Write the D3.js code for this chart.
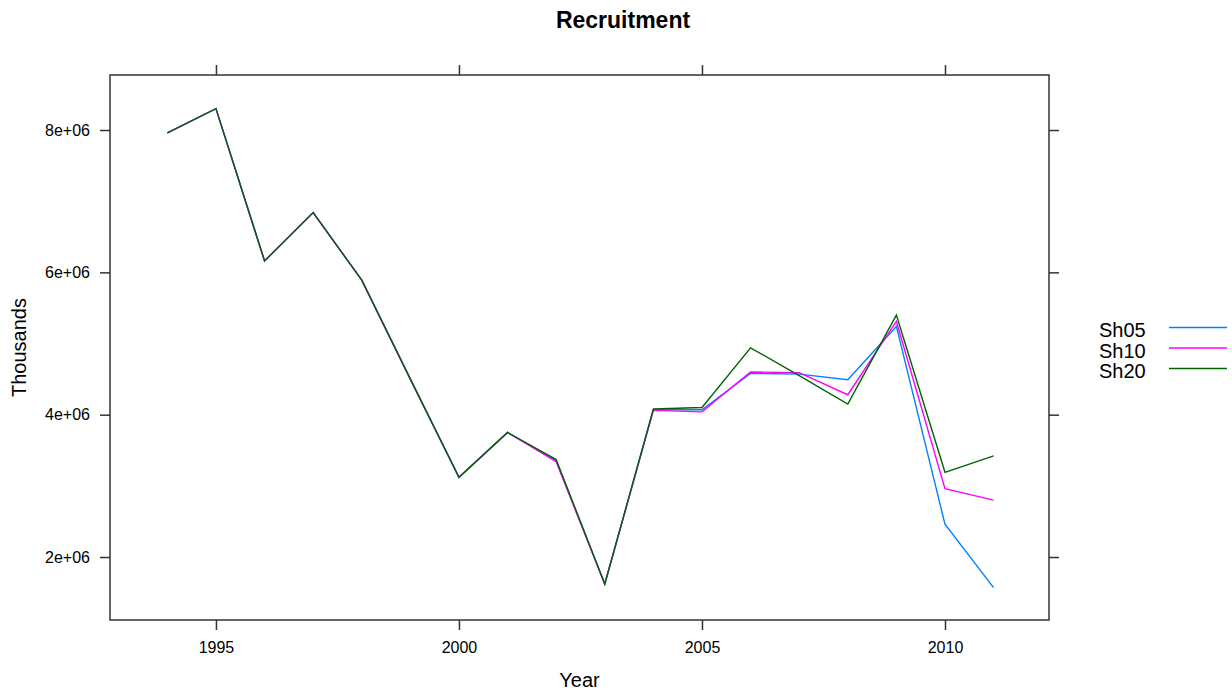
<!DOCTYPE html>
<html>
<head>
<meta charset="utf-8">
<script src="https://cdn.jsdelivr.net/npm/d3@7"></script>
<style>
  body { margin: 0; background: #fff; }
  svg { display: block; font-family: Arial, "Liberation Sans", sans-serif; }
</style>
</head>
<body>
<svg id="chart" width="1232" height="693"></svg>
<script>
const years = [1994, 1995, 1996, 1997, 1998, 1999, 2000, 2001, 2002, 2003,
               2004, 2005, 2006, 2007, 2008, 2009, 2010, 2011];

// recruitment values (millions)
const sh05 = [7.96, 8.30, 6.16, 6.84, 5.89, 4.50, 3.12, 3.75, 3.35, 1.62,
              4.07, 4.07, 4.58, 4.57, 4.49, 5.24, 2.46, 1.57];
const sh10 = [7.96, 8.30, 6.16, 6.84, 5.89, 4.50, 3.12, 3.75, 3.34, 1.62,
              4.06, 4.04, 4.60, 4.59, 4.28, 5.31, 2.96, 2.80];
const sh20 = [7.96, 8.30, 6.16, 6.84, 5.89, 4.50, 3.12, 3.75, 3.37, 1.62,
              4.08, 4.10, 4.94, 4.55, 4.15, 5.40, 3.19, 3.42];

const seriesNames = ['Sh05', 'Sh10', 'Sh20'];
const seriesVals = [sh05, sh10, sh20];
const colors = ['#0080ff', '#ff00ff', '#006400'];

const xTicks = [1995, 2000, 2005, 2010];
const yTicks = [2e6, 4e6, 6e6, 8e6];

const panelL = 110, panelR = 1049, panelT = 75, panelB = 620;

const svg = d3.select('#chart');

const x = d3.scaleLinear().domain([1992.82, 2012.14]).range([panelL, panelR]);
const y = d3.scaleLinear().domain([1.115e6, 8.773e6]).range([panelB, panelT]);

const fmt = d => (d / 1e6) + 'e+06';

// axes
const styleAxis = g => {
  g.select('.domain').remove();
  g.selectAll('.tick line').attr('stroke', '#333').attr('stroke-width', 1.5);
  g.selectAll('.tick text').attr('fill', '#000').style('font-size', '16px');
};

svg.append('g')
   .attr('transform', `translate(0,${panelB})`)
   .call(d3.axisBottom(x).tickValues(xTicks).tickSize(10).tickPadding(12).tickFormat(d3.format('d')))
   .call(styleAxis);

svg.append('g')
   .attr('transform', `translate(0,${panelT})`)
   .call(d3.axisTop(x).tickValues(xTicks).tickSize(10).tickFormat(''))
   .call(styleAxis);

svg.append('g')
   .attr('transform', `translate(${panelL},0)`)
   .call(d3.axisLeft(y).tickValues(yTicks).tickSize(10).tickPadding(10).tickFormat(fmt))
   .call(styleAxis);

svg.append('g')
   .attr('transform', `translate(${panelR},0)`)
   .call(d3.axisRight(y).tickValues(yTicks).tickSize(10).tickFormat(''))
   .call(styleAxis);

// lines
const line = d3.line()
               .x((d, i) => x(years[i]))
               .y(d => y(d * 1e6));

svg.append('g')
   .selectAll('path')
   .data(seriesVals)
   .enter()
   .append('path')
   .attr('d', d => line(d))
   .attr('fill', 'none')
   .attr('stroke', (d, i) => colors[i])
   .attr('stroke-width', 1.4);

// panel box
svg.append('rect')
   .attr('x', panelL)
   .attr('y', panelT)
   .attr('width', panelR - panelL)
   .attr('height', panelB - panelT)
   .attr('fill', 'none')
   .attr('stroke', '#333')
   .attr('stroke-width', 1.5);

// titles
svg.append('text')
   .attr('x', 623)
   .attr('y', 28)
   .attr('text-anchor', 'middle')
   .style('font-size', '23px')
   .style('font-weight', 'bold')
   .text('Recruitment');

svg.append('text')
   .attr('x', (panelL + panelR) / 2)
   .attr('y', 687)
   .attr('text-anchor', 'middle')
   .style('font-size', '20px')
   .text('Year');

svg.append('text')
   .attr('transform', `translate(26,${(panelT + panelB) / 2}) rotate(-90)`)
   .attr('text-anchor', 'middle')
   .style('font-size', '20px')
   .text('Thousands');

// legend
const legend = svg.append('g')
                  .selectAll('g')
                  .data(seriesNames)
                  .enter()
                  .append('g')
                  .attr('transform', (d, i) => `translate(0,${327.5 + i * 20.5})`);

legend.append('text')
      .attr('x', 1099)
      .attr('y', 9.5)
      .style('font-size', '20px')
      .text(d => d);

legend.append('line')
      .attr('x1', 1169)
      .attr('x2', 1227)
      .attr('stroke', (d, i) => colors[i])
      .attr('stroke-width', 1.4);
</script>
</body>
</html>
